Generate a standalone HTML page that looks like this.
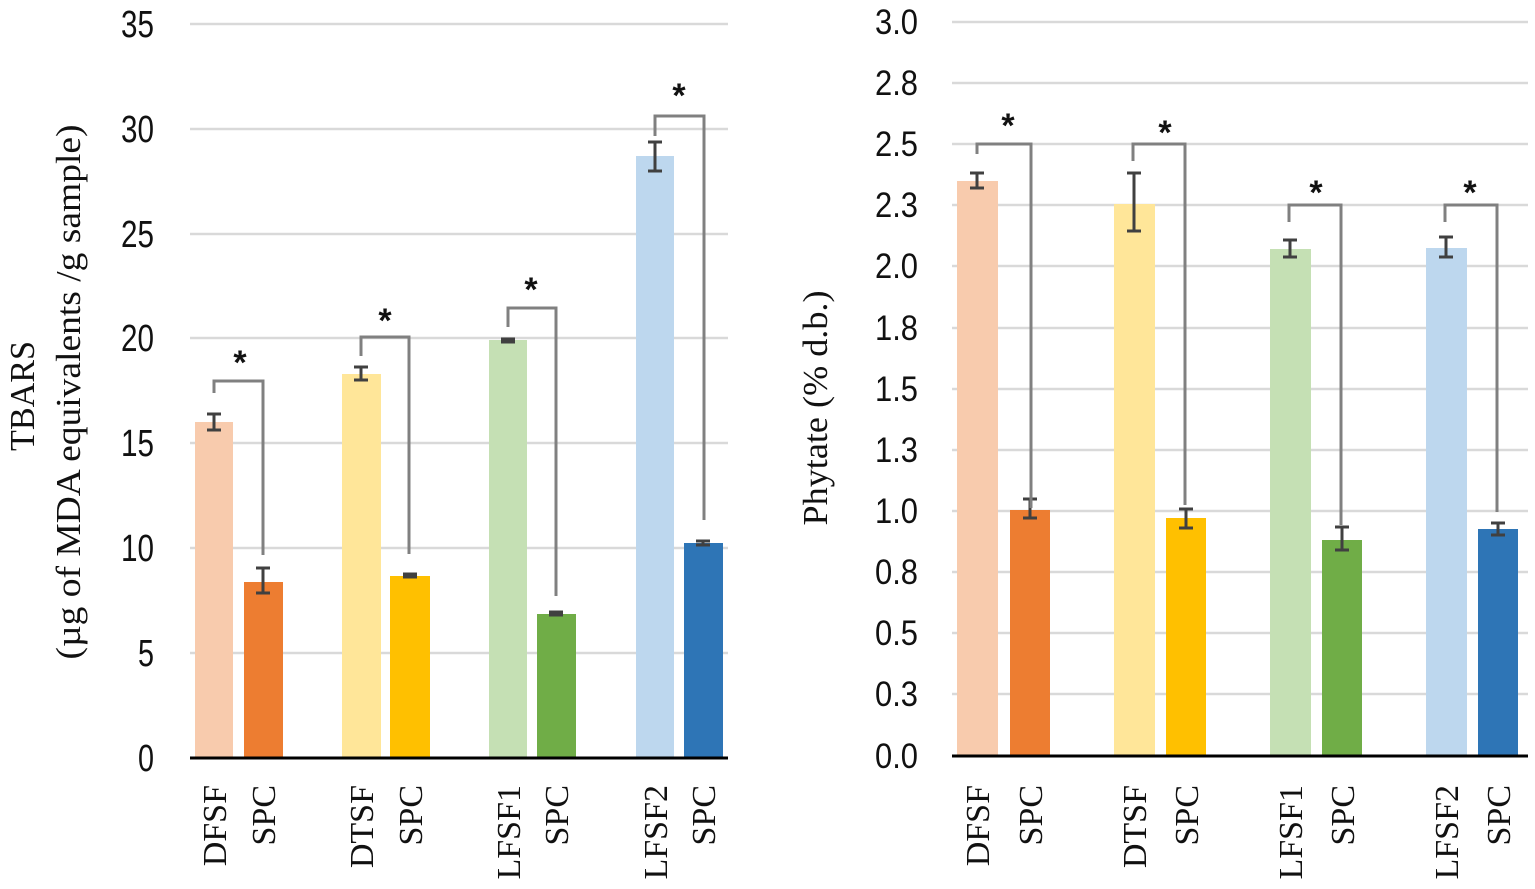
<!DOCTYPE html>
<html><head><style>body{margin:0;background:#fff}svg{display:block}</style></head><body>
<svg width="1535" height="889" xmlns="http://www.w3.org/2000/svg">
<g stroke="#d9d9d9" stroke-width="2.5">
<line x1="190" x2="728" y1="24" y2="24"/><line x1="190" x2="728" y1="129" y2="129"/><line x1="190" x2="728" y1="234" y2="234"/><line x1="190" x2="728" y1="338" y2="338"/><line x1="190" x2="728" y1="443" y2="443"/><line x1="190" x2="728" y1="548" y2="548"/><line x1="190" x2="728" y1="653" y2="653"/>
<line x1="952" x2="1528" y1="22" y2="22"/><line x1="952" x2="1528" y1="83" y2="83"/><line x1="952" x2="1528" y1="144" y2="144"/><line x1="952" x2="1528" y1="205" y2="205"/><line x1="952" x2="1528" y1="266" y2="266"/><line x1="952" x2="1528" y1="328" y2="328"/><line x1="952" x2="1528" y1="389" y2="389"/><line x1="952" x2="1528" y1="450" y2="450"/><line x1="952" x2="1528" y1="511" y2="511"/><line x1="952" x2="1528" y1="572" y2="572"/><line x1="952" x2="1528" y1="633" y2="633"/><line x1="952" x2="1528" y1="694" y2="694"/>
</g>
<g font-family="Liberation Sans, sans-serif" font-size="38" text-anchor="end" fill="#111">
<text x="154" y="37" textLength="33" lengthAdjust="spacingAndGlyphs">35</text><text x="154" y="142" textLength="33" lengthAdjust="spacingAndGlyphs">30</text><text x="154" y="247" textLength="33" lengthAdjust="spacingAndGlyphs">25</text><text x="154" y="351" textLength="33" lengthAdjust="spacingAndGlyphs">20</text><text x="154" y="456" textLength="33" lengthAdjust="spacingAndGlyphs">15</text><text x="154" y="561" textLength="33" lengthAdjust="spacingAndGlyphs">10</text><text x="154" y="666" textLength="16" lengthAdjust="spacingAndGlyphs">5</text><text x="154" y="771" textLength="16" lengthAdjust="spacingAndGlyphs">0</text>
</g>
<g font-family="Liberation Sans, sans-serif" font-size="35" text-anchor="end" fill="#111">
<text x="918" y="34" textLength="43" lengthAdjust="spacingAndGlyphs">3.0</text><text x="918" y="95" textLength="43" lengthAdjust="spacingAndGlyphs">2.8</text><text x="918" y="156" textLength="43" lengthAdjust="spacingAndGlyphs">2.5</text><text x="918" y="217" textLength="43" lengthAdjust="spacingAndGlyphs">2.3</text><text x="918" y="278" textLength="43" lengthAdjust="spacingAndGlyphs">2.0</text><text x="918" y="340" textLength="43" lengthAdjust="spacingAndGlyphs">1.8</text><text x="918" y="401" textLength="43" lengthAdjust="spacingAndGlyphs">1.5</text><text x="918" y="462" textLength="43" lengthAdjust="spacingAndGlyphs">1.3</text><text x="918" y="523" textLength="43" lengthAdjust="spacingAndGlyphs">1.0</text><text x="918" y="584" textLength="43" lengthAdjust="spacingAndGlyphs">0.8</text><text x="918" y="645" textLength="43" lengthAdjust="spacingAndGlyphs">0.5</text><text x="918" y="706" textLength="43" lengthAdjust="spacingAndGlyphs">0.3</text><text x="918" y="768" textLength="43" lengthAdjust="spacingAndGlyphs">0.0</text>
</g>
<rect x="195" y="422" width="38" height="336" fill="#f8cbad"/>
<rect x="244" y="582" width="39" height="176" fill="#ed7d31"/>
<rect x="342" y="374" width="39" height="384" fill="#ffe699"/>
<rect x="390" y="576" width="40" height="182" fill="#ffc000"/>
<rect x="489" y="340" width="38" height="418" fill="#c5e0b4"/>
<rect x="537" y="614" width="39" height="144" fill="#70ad47"/>
<rect x="636" y="156" width="38" height="602" fill="#bdd7ee"/>
<rect x="684" y="543" width="39" height="215" fill="#2e75b6"/>
<rect x="957" y="181" width="41" height="575" fill="#f8cbad"/>
<rect x="1010" y="510" width="40" height="246" fill="#ed7d31"/>
<rect x="1114" y="204" width="41" height="552" fill="#ffe699"/>
<rect x="1166" y="518" width="40" height="238" fill="#ffc000"/>
<rect x="1270" y="249" width="41" height="507" fill="#c5e0b4"/>
<rect x="1322" y="540" width="40" height="216" fill="#70ad47"/>
<rect x="1426" y="248" width="41" height="508" fill="#bdd7ee"/>
<rect x="1478" y="529" width="40" height="227" fill="#2e75b6"/>
<line x1="190" x2="728" y1="758" y2="758" stroke="#000" stroke-width="3"/>
<line x1="952" x2="1528" y1="756" y2="756" stroke="#000" stroke-width="3"/>
<g stroke="#404040" stroke-width="3" fill="none">
<path d="M214 414V430M207 414H221M207 430H221"/>
<path d="M263 568V593M256 568H270M256 593H270"/>
<path d="M361 367V380M354 367H368M354 380H368"/>
<path d="M410 574V577M403 574H417M403 577H417"/>
<path d="M508 339V342M501 339H515M501 342H515"/>
<path d="M556 612V615M549 612H563M549 615H563"/>
<path d="M655 142V171M648 142H662M648 171H662"/>
<path d="M703 541V545M696 541H710M696 545H710"/>
<path d="M977 173V188M970 173H984M970 188H984"/>
<path d="M1030 499V518M1023 499H1037M1023 518H1037"/>
<path d="M1134 173V231M1127 173H1141M1127 231H1141"/>
<path d="M1186 509V528M1179 509H1193M1179 528H1193"/>
<path d="M1290 240V257M1283 240H1297M1283 257H1297"/>
<path d="M1342 527V550M1335 527H1349M1335 550H1349"/>
<path d="M1446 237V257M1439 237H1453M1439 257H1453"/>
<path d="M1498 523V535M1491 523H1505M1491 535H1505"/>
</g>
<g stroke="#808080" stroke-width="3" fill="none">
<path d="M214 393V381H263V555"/>
<path d="M361 356V337H409V554"/>
<path d="M508 327V308H556V596"/>
<path d="M655 136V116H704V520"/>
<path d="M977 154V144H1031V508"/>
<path d="M1133 161V144H1185V505"/>
<path d="M1289 222V205H1341V525"/>
<path d="M1445 222V205H1497V512"/>
</g>
<g font-family="Liberation Sans, sans-serif" font-size="34" font-weight="bold" text-anchor="middle" fill="#111">
<text x="240" y="374">*</text><text x="385" y="332">*</text><text x="531" y="301">*</text><text x="679" y="107">*</text>
<text x="1008" y="137">*</text><text x="1165" y="144">*</text><text x="1316" y="204">*</text><text x="1470" y="204">*</text>
</g>
<g font-family="Liberation Serif, serif" font-size="34" text-anchor="end" fill="#111">
<text transform="translate(226,785) rotate(-90)">DFSF</text>
<text transform="translate(275,785) rotate(-90)">SPC</text>
<text transform="translate(373,785) rotate(-90)">DTSF</text>
<text transform="translate(422,785) rotate(-90)">SPC</text>
<text transform="translate(520,785) rotate(-90)">LFSF1</text>
<text transform="translate(568,785) rotate(-90)">SPC</text>
<text transform="translate(667,785) rotate(-90)">LFSF2</text>
<text transform="translate(715,785) rotate(-90)">SPC</text>
<text transform="translate(989,785) rotate(-90)">DFSF</text>
<text transform="translate(1042,785) rotate(-90)">SPC</text>
<text transform="translate(1146,785) rotate(-90)">DTSF</text>
<text transform="translate(1198,785) rotate(-90)">SPC</text>
<text transform="translate(1302,785) rotate(-90)">LFSF1</text>
<text transform="translate(1354,785) rotate(-90)">SPC</text>
<text transform="translate(1458,785) rotate(-90)">LFSF2</text>
<text transform="translate(1510,785) rotate(-90)">SPC</text>
</g>
<g font-family="Liberation Serif, serif" font-size="35" text-anchor="middle" fill="#111">
<text transform="translate(34,396) rotate(-90)" textLength="110" lengthAdjust="spacingAndGlyphs">TBARS</text>
<text transform="translate(80,392) rotate(-90)" textLength="535" lengthAdjust="spacingAndGlyphs">(µg of MDA  equivalents /g sample)</text>
<text transform="translate(827,408) rotate(-90)" textLength="235" lengthAdjust="spacingAndGlyphs">Phytate (% d.b.)</text>
</g>
</svg>
</body></html>
